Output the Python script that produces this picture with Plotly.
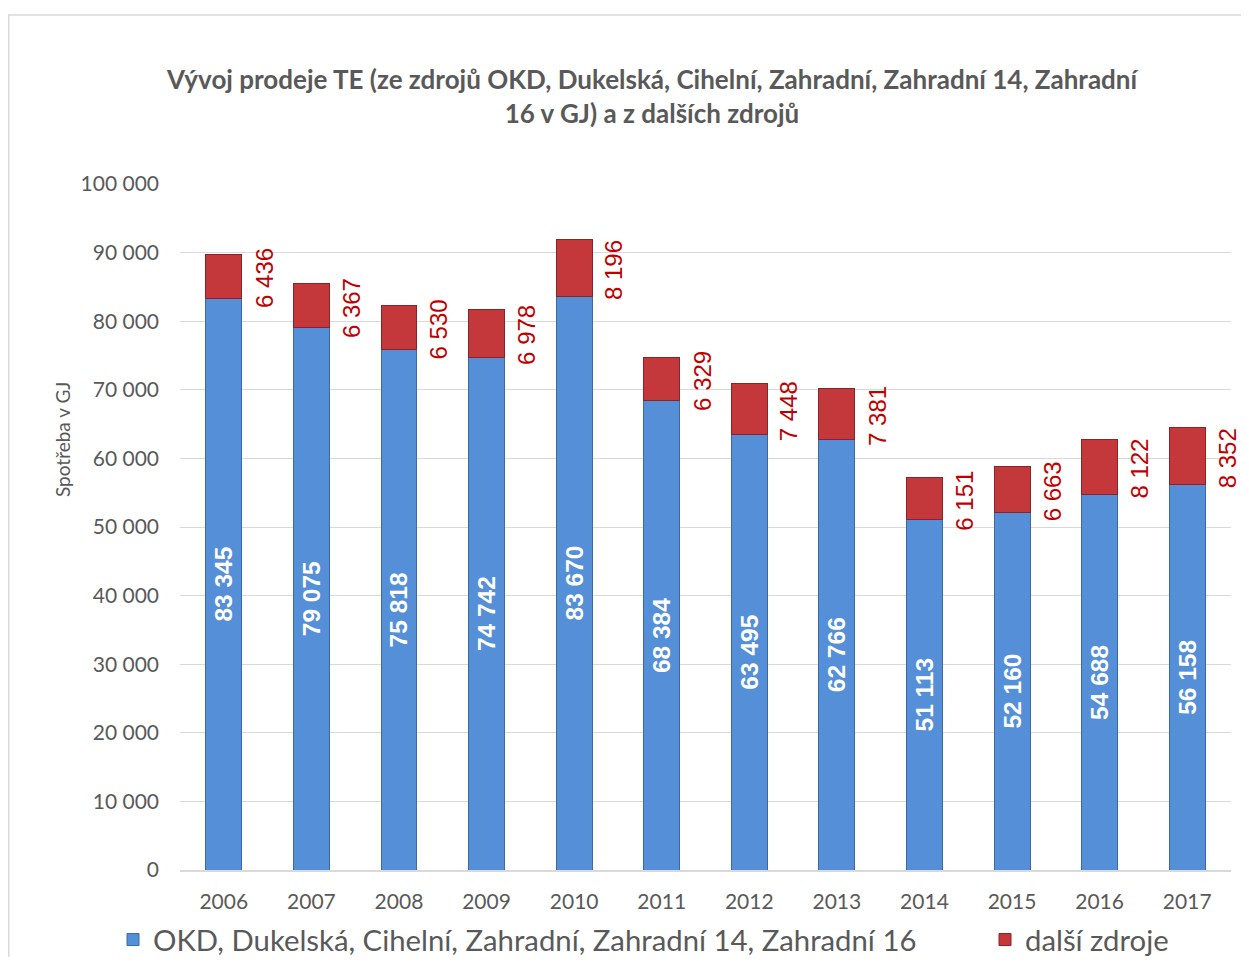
import plotly.graph_objects as go

years = ["2006", "2007", "2008", "2009", "2010", "2011", "2012", "2013", "2014", "2015", "2016", "2017"]
okd = [83345, 79075, 75818, 74742, 83670, 68384, 63495, 62766, 51113, 52160, 54688, 56158]
dalsi = [6436, 6367, 6530, 6978, 8196, 6329, 7448, 7381, 6151, 6663, 8122, 8352]

name_okd = "OKD, Dukelská, Cihelní, Zahradní, Zahradní 14, Zahradní 16"
name_dalsi = "další zdroje"
title_text = "Vývoj prodeje TE (ze zdrojů OKD, Dukelská, Cihelní, Zahradní, Zahradní 14, Zahradní<br>16 v GJ) a z dalších zdrojů"
ytitle = "Spotřeba v GJ"

# figure geometry (page body adds 8px offset)
W, H = 1233, 949
L, R, T, B = 172, 10, 176, 87
pw, ph = W - L - R, H - T - B


def px_x(px):
    return (px - L) / pw


def px_y(py):
    return (H - B - py) / ph


fig = go.Figure()
fig.add_trace(go.Bar(
    x=years, y=okd, name=name_okd, legend="legend",
    marker=dict(color="#548FD8", line=dict(color="#3A69A8", width=1)),
    texttemplate="%{y:,d}", textposition="inside", insidetextanchor="middle",
    textangle=-90, textfont=dict(family="Liberation Sans", size=24.5, color="white", weight="bold"),
    width=0.41,
))
fig.add_trace(go.Bar(
    x=years, y=dalsi, name=name_dalsi, legend="legend2",
    marker=dict(color="#C4373A", line=dict(color="#8A2325", width=1)),
    width=0.41, textposition="none",
))

for i, (b, r) in enumerate(zip(okd, dalsi)):
    fig.add_annotation(
        x=i, y=b + r / 2, text=f"{r:,}".replace(",", " "), showarrow=False,
        xshift=40, yshift=-2, textangle=-90,
        font=dict(family="Liberation Sans", size=24, color="#C00000"),
    )

# y axis title
fig.add_annotation(xref="paper", yref="paper", x=px_x(54), y=px_y(432), text=ytitle,
                   showarrow=False, textangle=-90, xanchor="center", yanchor="middle",
                   font=dict(family="Lato", size=19, color="#595959"))

# chart border
fig.add_shape(type="rect", xref="paper", yref="paper",
              x0=px_x(0.75), x1=px_x(W + 20), y0=px_y(H + 20), y1=px_y(7),
              line=dict(color="#D9D9D9", width=1.5), fillcolor="rgba(0,0,0,0)", layer="below")

fig.update_layout(
    width=W, height=H,
    margin=dict(l=L, r=R, t=T, b=B, autoexpand=False),
    paper_bgcolor="white", plot_bgcolor="white",
    barmode="stack",
    separators=", ",
    font=dict(family="Lato", color="#595959"),
    title=dict(text=title_text, x=644 / W, xanchor="center", xref="container",
               y=1 - 81 / H, yanchor="middle", yref="container",
               font=dict(family="Lato", size=26, color="#595959", weight="bold")),
    yaxis=dict(range=[0, 100000], dtick=10000, tickformat=",d", showgrid=True,
               gridcolor="#D9D9D9", gridwidth=1, zeroline=False, showline=False,
               tickfont=dict(size=21, color="#595959"), ticks="", automargin=False,
               ticklabelstandoff=20),
    xaxis=dict(type="category", range=[-0.5, 11.5], showline=True, linecolor="#D9D9D9",
               linewidth=1.5, showgrid=False,
               tickfont=dict(size=21, color="#595959"), automargin=False, ticks="",
               ticklabelstandoff=12),
    legend=dict(orientation="h", xref="container", yref="container",
                x=(113 - 8) / W, xanchor="left", y=1 - 932 / H, yanchor="middle",
                font=dict(size=29.3, color="#595959"), bgcolor="rgba(0,0,0,0)"),
    legend2=dict(orientation="h", xref="container", yref="container",
                 x=(985 - 8) / W, xanchor="left", y=1 - 932 / H, yanchor="middle",
                 font=dict(size=29.3, color="#595959"), bgcolor="rgba(0,0,0,0)"),
    showlegend=True,
)

fig.write_html("out.html")
